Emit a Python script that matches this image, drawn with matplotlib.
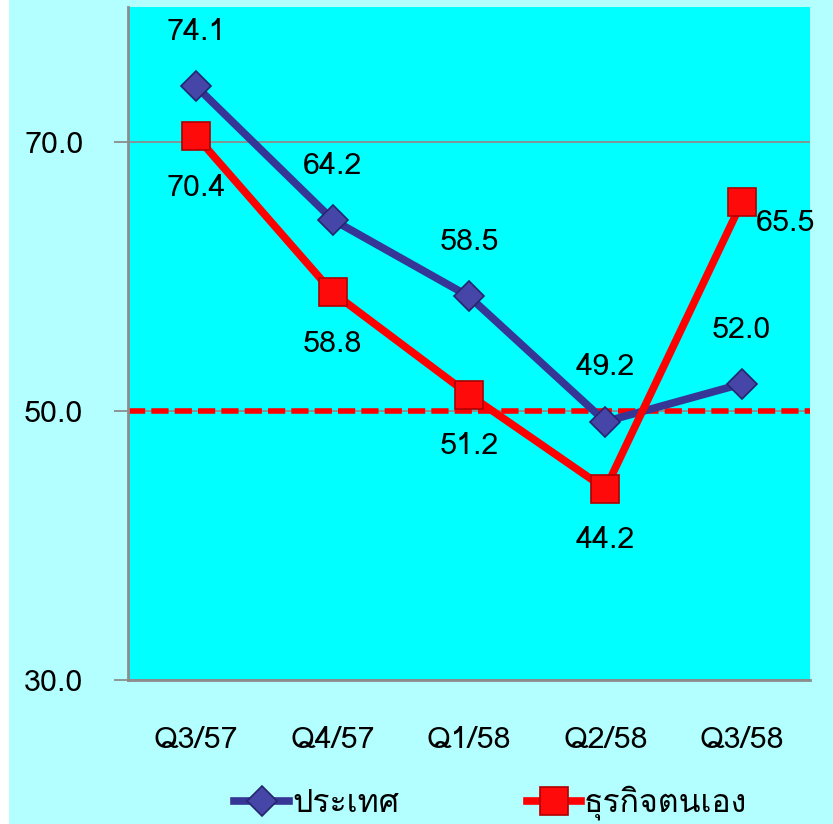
import matplotlib
matplotlib.use("Agg")
import matplotlib.pyplot as plt
from matplotlib import font_manager
from matplotlib.ft2font import FT2Font
from matplotlib.patches import Rectangle

# quarters and the two confidence series
quarters = ["Q3/57", "Q4/57", "Q1/58", "Q2/58", "Q3/58"]
country = [74.1, 64.2, 58.5, 49.2, 52.0]
own_business = [70.4, 58.8, 51.2, 44.2, 65.5]
series_names = ["ประเทศ", "ธุรกิจตนเอง"]
y_ticks = [30.0, 50.0, 70.0]
baseline = 50.0


def find_thai_font():
    # pick the first installed family that has Thai glyphs
    for f in font_manager.fontManager.ttflist:
        try:
            if 0x0E1B in FT2Font(f.fname).get_charmap():
                return f.name
        except Exception:
            continue
    return None


thai = find_thai_font()
families = ([thai] if thai else []) + ["DejaVu Sans"]
plt.rcParams["font.family"] = families

BLUE = "#363696"
RED = "#FF0000"
FS = 22

fig = plt.figure(figsize=(8.33, 8.24), dpi=100)
fig.patch.set_facecolor("#B3FFFF")
fig.patches.append(Rectangle((0, 0), 9 / 833, 1, transform=fig.transFigure,
                             facecolor="white", edgecolor="none", zorder=0))

ax = fig.add_axes([128 / 833, 1 - 680 / 824, 682 / 833, 673 / 824])
ax.set_facecolor("#00FFFF")

x = list(range(len(quarters)))

ax.axhline(baseline, color=RED, lw=4, dashes=(3.1, 1.1), zorder=2)

ax.plot(x, country, color=BLUE, lw=5.5, marker="D", markersize=15.5,
        markerfacecolor="#4646A8", markeredgecolor="#26266E",
        markeredgewidth=1.2, zorder=3, label=series_names[0])
ax.plot(x, own_business, color=RED, lw=5.5, marker="s", markersize=19.5,
        markerfacecolor="#FF0A0A", markeredgecolor="#B00000",
        markeredgewidth=1.2, zorder=4, label=series_names[1])

# value labels: country above, own business below (last one to the right)
for i, v in enumerate(country):
    ax.annotate(f"{v:.1f}", (i, v), xytext=(0, 39), textcoords="offset points",
                ha="center", va="center", fontsize=FS, zorder=6)
for i, v in enumerate(own_business):
    if i == len(own_business) - 1:
        ax.annotate(f"{v:.1f}", (i, v), xytext=(10, -15), textcoords="offset points",
                    ha="left", va="center", fontsize=FS, zorder=6)
    else:
        ax.annotate(f"{v:.1f}", (i, v), xytext=(0, -37), textcoords="offset points",
                    ha="center", va="center", fontsize=FS, zorder=6)

ax.set_xlim(-0.5, len(quarters) - 0.5)
ax.set_ylim(30, 80)
ax.set_yticks(y_ticks)
ax.set_yticklabels([f"{t:.1f}" for t in y_ticks], fontsize=FS)
ax.set_xticks(x)
ax.set_xticklabels(quarters, fontsize=FS)

ax.yaxis.grid(True, color="#8C8C8C", lw=1.3)
ax.set_axisbelow(True)
ax.tick_params(axis="y", length=10, width=1.3, color="#8C8C8C", pad=22)
ax.tick_params(axis="x", length=0, pad=33)

for side in ["top", "right"]:
    ax.spines[side].set_visible(False)
for side in ["left", "bottom"]:
    ax.spines[side].set_color("#8C8C8C")
    ax.spines[side].set_linewidth(2)

fig.legend(loc="center", bbox_to_anchor=(491 / 833, 1 - 803 / 824), ncol=2,
           frameon=False, fontsize=23, handlelength=1.7, handletextpad=0.1,
           columnspacing=4.0)

fig.savefig("out.png", dpi=100, facecolor=fig.get_facecolor())
